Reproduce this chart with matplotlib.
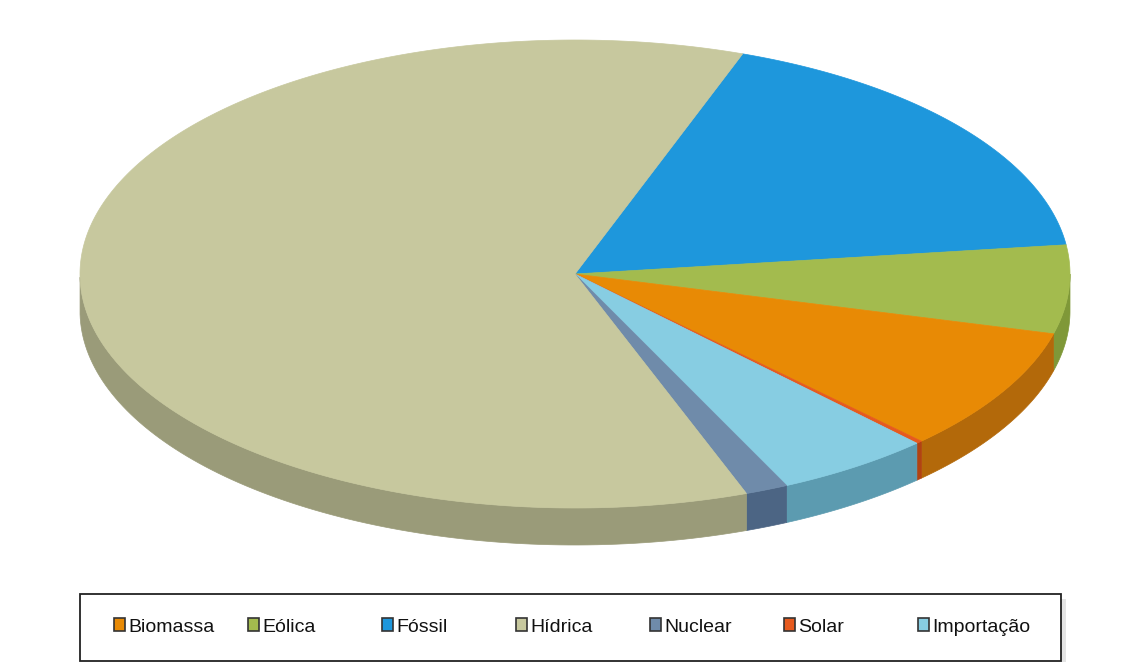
import numpy as np
import matplotlib
matplotlib.use('Agg')
import matplotlib.pyplot as plt
from matplotlib.patches import Polygon, Rectangle

# dados (% da geração)
labels = ['Biomassa', 'Eólica', 'Fóssil', 'Hídrica', 'Nuclear', 'Solar', 'Importação']
values = [8.55, 6.1, 17.5, 61.1, 1.4, 0.2, 5.1]
top_colors = ['#E88A05', '#A3BB4E', '#1E97DC', '#C7C89E', '#6F8BAA', '#E65A1E', '#87CDE2']
side_colors = ['#B3690A', '#7F9838', '#1670A8', '#9A9B79', '#4C6584', '#B24312', '#5C9BB0']

# ordem das fatias no desenho (sentido horário a partir do topo)
draw_order = ['Fóssil', 'Eólica', 'Biomassa', 'Solar', 'Importação', 'Nuclear', 'Hídrica']

W, H = 1134, 662
fig = plt.figure(figsize=(W / 100, H / 100), dpi=100)
ax = fig.add_axes([0, 0, 1, 1])
ax.set_xlim(0, W)
ax.set_ylim(H, 0)
ax.axis('off')

cx, cy, a, b, depth = 575, 274, 495, 234, 37
start = 70.2

vals = np.array([values[labels.index(n)] for n in draw_order])
ang = start - np.concatenate([[0], np.cumsum(vals)]) / vals.sum() * 360

def ell(t):
    t = np.radians(t)
    return cx + a * np.cos(t), cy - b * np.sin(t)

# laterais (só a parte da frente)
for i, name in enumerate(draw_order):
    k = labels.index(name)
    ts = np.linspace(ang[i + 1], ang[i], 200)
    vis = np.sin(np.radians(ts)) <= 0.001
    if not vis.any():
        continue
    ts = ts[vis]
    x, y = ell(ts)
    pts = np.column_stack([np.concatenate([x, x[::-1]]),
                           np.concatenate([y, y[::-1] + depth])])
    ax.add_patch(Polygon(pts, closed=True, fc=side_colors[k], ec=side_colors[k], lw=0.5))

# topo
for i, name in enumerate(draw_order):
    k = labels.index(name)
    ts = np.linspace(ang[i + 1], ang[i], 300)
    x, y = ell(ts)
    pts = np.column_stack([np.concatenate([[cx], x]), np.concatenate([[cy], y])])
    ax.add_patch(Polygon(pts, closed=True, fc=top_colors[k], ec=top_colors[k], lw=0.5))

# legenda
lx0, ly0, lx1, ly1 = 80, 594, 1061, 661
ax.add_patch(Rectangle((lx1, ly0 + 5), 5, ly1 - ly0, fc='#E4E4E4', ec='none'))
ax.add_patch(Rectangle((lx0, ly0), lx1 - lx0, ly1 - ly0, fc='white', ec='#222222', lw=1.3))
pitch = 134
for i, lab in enumerate(labels):
    sx = 114 + i * pitch
    ax.add_patch(Rectangle((sx, 618), 11, 13, fc=top_colors[i], ec='#333333', lw=1.2))
    ax.text(sx + 14, 632, lab, fontsize=14, family='Liberation Sans',
            va='baseline', ha='left', color='#111111')

fig.savefig('out.png', dpi=100)
